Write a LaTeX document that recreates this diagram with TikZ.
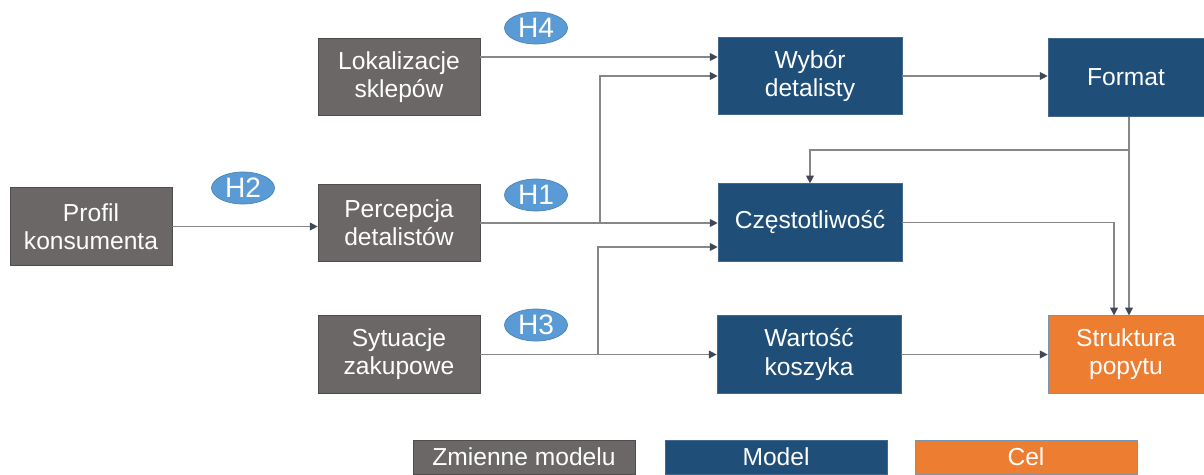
\documentclass[tikz,border=0pt]{standalone}
\usepackage{fontspec}
\setmainfont{Liberation Sans}
\usetikzlibrary{positioning, shapes.geometric, arrows.meta}

\definecolor{boxgray}{RGB}{107,103,103}
\definecolor{boxblue}{RGB}{31,78,121}
\definecolor{boxorange}{RGB}{237,125,49}
\definecolor{hypblue}{RGB}{91,155,213}
\definecolor{linegray}{RGB}{135,135,135}
\definecolor{tipgray}{RGB}{64,72,88}

\tikzset{
    varbox/.style = {rectangle, fill = boxgray, draw = boxgray!75!black, line width = 0.4, text = white, align = center,
        font = \fontsize{14}{16}\selectfont, inner sep = 0, minimum width = 3.24cm, minimum height = 1.55cm},
    modelbox/.style = {varbox, fill = boxblue, draw = boxblue!85!white, minimum width = 3.68cm},
    goalbox/.style = {varbox, fill = boxorange, draw = boxblue!60!white, minimum width = 3.12cm},
    legbox/.style = {varbox, minimum width = 4.44cm, minimum height = 0.68cm},
    hypo/.style = {ellipse, fill = hypblue, draw = hypblue!85!black, line width = 0.4, text = white,
        font = \fontsize{16}{18}\selectfont, inner sep = 0, minimum width = 1.26cm, minimum height = 0.64cm},
    link/.style = {draw = linegray, line width = 0.7, -{Triangle[length = 4.5pt, width = 4.5pt, color = tipgray]}}
}

\begin{document}
\begin{tikzpicture}[x = 0.02cm, y = -0.02cm]
    \useasboundingbox (0,0) rectangle (1204,474);

    \node [varbox] (profil) at (91,226.5) {Profil\\konsumenta};
    \node [varbox] (lok)    at (399,77)   {Lokalizacje\\sklepów};
    \node [varbox] (perc)   at (399,223)  {Percepcja\\detalistów};
    \node [varbox] (syt)    at (399,354.5) {Sytuacje\\zakupowe};

    \node [modelbox] (wyb)   at (810,76)    {Wybór\\detalisty};
    \node [modelbox] (czest) at (810,222.5) {Częstotliwość};
    \node [modelbox] (wart)  at (809,354.5) {Wartość\\koszyka};
    \node [modelbox, minimum width = 3.12cm] (format) at (1126,77.5) {Format};
    \node [goalbox] (strukt) at (1126,354.5) {Struktura\\popytu};

    \node [hypo] (h4) at (536,28)  {H4};
    \node [hypo] (h2) at (243,188) {H2};
    \node [hypo] (h1) at (536,195) {H1};
    \node [hypo] (h3) at (536,325) {H3};

    \node [legbox] (legvar)   at (524,457)  {Zmienne modelu};
    \node [legbox, fill = boxblue, draw = boxblue!85!white] (legmodel) at (776,457) {Model};
    \node [legbox, fill = boxorange, draw = boxblue!60!white] (leggoal) at (1026,457) {Cel};

    \coordinate (percjoin) at (600,223);
    \coordinate (sytjoin)  at (598,354.5);
    \coordinate (formjoin) at (1129,150);

    \draw [link] (profil.east) -- (profil.east -| perc.west);
    \draw [link] ([yshift = 0.4cm] lok.east) -- ([yshift = 0.4cm] lok.east -| wyb.west);
    \draw [link] (perc.east) -- (perc.east -| czest.west);
    \draw [link] (percjoin) |- (wyb.west);
    \draw [link] (syt.east) -- (syt.east -| wart.west);
    \draw [link] (sytjoin) |- ([yshift = -0.49cm] czest.west);
    \draw [link] (wyb.east) -- (wyb.east -| format.west);
    \draw [link] ([xshift = 0.06cm] format.south) -- ([xshift = 0.06cm] format.south |- strukt.north);
    \draw [link] (formjoin) -| (czest.north);
    \draw [link] (czest.east) -| ([xshift = -0.24cm] strukt.north);
    \draw [link] (wart.east) -- (wart.east -| strukt.west);
\end{tikzpicture}
\end{document}
